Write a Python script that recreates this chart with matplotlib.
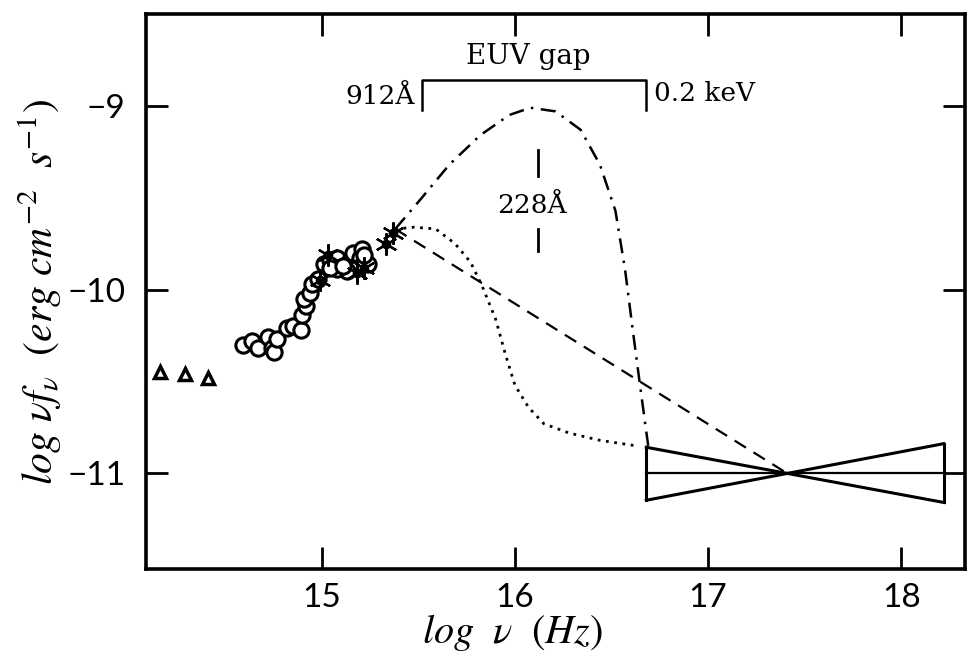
import matplotlib.pyplot as plt

plt.rcParams['mathtext.fontset'] = 'stix'

# near-IR points (log nu, log nu f_nu)
ir_logv = [14.16, 14.29, 14.41]
ir_logf = [-10.45, -10.46, -10.48]

# optical / UV photometry
opt_logv = [14.59, 14.64, 14.67, 14.72, 14.74, 14.75, 14.77, 14.82, 14.85, 14.89,
            14.90, 14.92, 14.91, 14.94, 14.95, 14.98, 15.01, 15.04, 15.08, 15.14,
            15.16, 15.20, 15.21, 15.24, 15.18, 15.13, 15.08, 15.04, 15.11, 15.22]
opt_logf = [-10.30, -10.28, -10.32, -10.26, -10.32, -10.34, -10.27, -10.21, -10.20, -10.22,
            -10.14, -10.09, -10.05, -10.02, -9.97, -9.94, -9.86, -9.84, -9.83, -9.85,
            -9.80, -9.83, -9.78, -9.86, -9.88, -9.90, -9.89, -9.88, -9.87, -9.81]

# IUE points
uv_logv = [14.99, 15.03, 15.18, 15.22, 15.33, 15.37]
uv_logf = [-9.95, -9.81, -9.91, -9.88, -9.75, -9.69]

# big blue bump (dash-dot)
bump_logv = [15.38, 15.51, 15.66, 15.82, 15.97, 16.08, 16.21, 16.34, 16.44, 16.52,
             16.57, 16.61, 16.65, 16.69]
bump_logf = [-9.67, -9.51, -9.32, -9.16, -9.05, -9.01, -9.03, -9.13, -9.32, -9.57,
             -9.89, -10.22, -10.54, -10.85]

# disk model (dotted)
disk_logv = [15.38, 15.48, 15.59, 15.69, 15.77, 15.83, 15.90, 15.95, 16.00, 16.07,
             16.15, 16.28, 16.44, 16.63]
disk_logf = [-9.67, -9.66, -9.67, -9.75, -9.85, -9.98, -10.16, -10.35, -10.52, -10.64,
             -10.73, -10.78, -10.82, -10.85]

# power law to the X-ray point (dashed)
pl_logv = [15.38, 17.41]
pl_logf = [-9.67, -11.00]

# X-ray bow tie
xray_center = (17.41, -11.00)
xray_range = [16.68, 18.22]
xray_slopes = [-0.195, 0.20]

# EUV gap: 912 A, 0.2 keV, 228 A
euv_lo, euv_hi, he_edge = 15.52, 16.68, 16.12

fig = plt.figure(figsize=(9.71, 6.6), dpi=100)
ax = fig.add_axes([0.1504, 0.1379, 0.8434, 0.8409])

ax.plot(ir_logv, ir_logf, ls='none', marker='^', ms=9, mfc='white', mec='black', mew=2.5)
ax.plot(opt_logv, opt_logf, ls='none', marker='o', ms=11, mfc='white', mec='black', mew=2.2)
ax.plot(uv_logv, uv_logf, ls='none', marker=(6, 2, 0), ms=16, mec='black', mew=1.6)
ax.plot(uv_logv, uv_logf, ls='none', marker='o', ms=6, color='black')

ax.plot(bump_logv, bump_logf, color='black', lw=1.8, ls=(0, (6, 3, 1, 3)))
ax.plot(disk_logv, disk_logf, color='black', lw=2.0, ls=(0, (1, 2)))
ax.plot(pl_logv, pl_logf, color='black', lw=1.6, ls=(0, (6, 4)))

# bow tie: two power laws through the center, closed at both ends
xc, yc = xray_center
ends = {s: [yc + s * (x - xc) for x in xray_range] for s in xray_slopes}
for s in xray_slopes:
    ax.plot(xray_range, ends[s], color='black', lw=2.2)
for i, x in enumerate(xray_range):
    ax.plot([x, x], [ends[xray_slopes[0]][i], ends[xray_slopes[1]][i]], color='black', lw=2.2)
ax.plot(xray_range, [yc, yc], color='black', lw=1.6)

# EUV gap bracket
ax.plot([euv_lo, euv_lo, euv_hi, euv_hi], [-9.02, -8.86, -8.86, -9.02], color='black', lw=1.8)
ax.text((euv_lo + euv_hi) / 2 - 0.03, -8.73, 'EUV gap', ha='center', va='center',
        family='DejaVu Serif', fontsize=20)
ax.text(euv_lo - 0.04, -8.95, '912Å', ha='right', va='center', family='DejaVu Serif', fontsize=19)
ax.text(euv_hi + 0.04, -8.93, '0.2 keV', ha='left', va='center', family='DejaVu Serif', fontsize=19)

ax.plot([he_edge, he_edge], [-9.24, -9.38], color='black', lw=2)
ax.plot([he_edge, he_edge], [-9.67, -9.79], color='black', lw=2)
ax.text(he_edge - 0.03, -9.54, '228Å', ha='center', va='center', family='DejaVu Serif', fontsize=19)

ax.set_xlim(14.09, 18.33)
ax.set_ylim(-11.52, -8.50)
ax.set_xticks([15, 16, 17, 18])
ax.set_yticks([-11, -10, -9])
ax.set_xticklabels(['15', '16', '17', '18'], family='Lato', fontsize=24)
ax.set_yticklabels(['−11', '−10', '−9'], family='Lato', fontsize=24)
ax.tick_params(direction='in', length=16, width=2, top=True, right=True)
ax.tick_params(axis='x', pad=10)
ax.tick_params(axis='y', pad=15)
for sp in ax.spines.values():
    sp.set_linewidth(2.6)

ax.set_xlabel(r'$log\ \ \nu\ \ (Hz)$', fontsize=29)
ax.xaxis.set_label_coords(0.447, -0.078)
ax.set_ylabel(r'$log\ \nu f_\nu\ \ (erg\ cm^{-2}\ \ s^{-1})$', fontsize=30)
ax.yaxis.set_label_coords(-0.1, 0.5)

fig.savefig('out.png', dpi=100)
